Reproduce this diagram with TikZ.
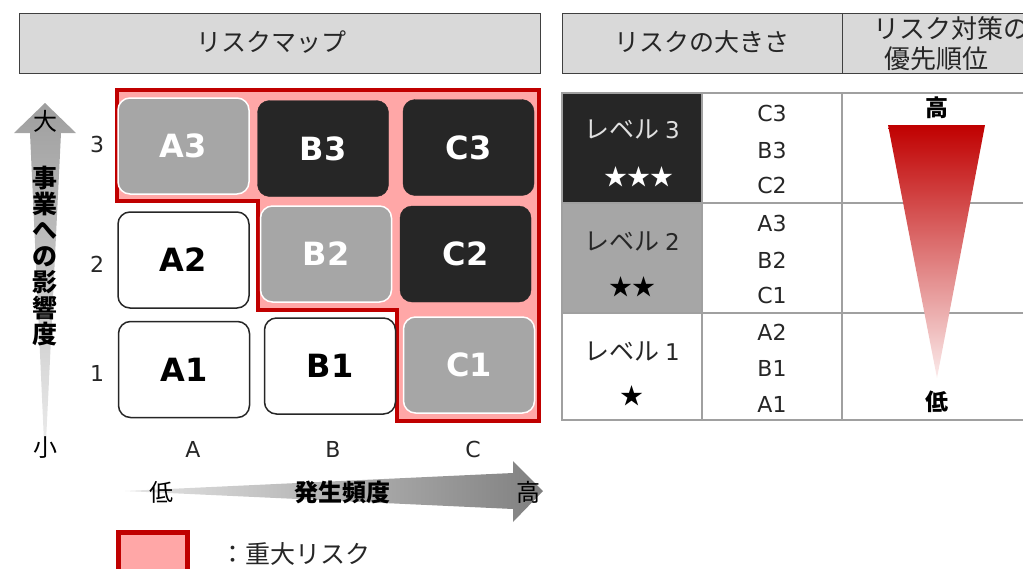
\documentclass[tikz,border=0pt]{standalone}
\usepackage{fontspec}
\setmainfont{DejaVu Sans}
\newfontfamily\jp{Noto Sans CJK JP}
\newcommand\myfs[1]{\fontsize{#1}{#1}\selectfont}
\definecolor{hdr}{HTML}{D9D9D9}
\definecolor{pinkr}{HTML}{FFA7A7}
\definecolor{dred}{HTML}{C00000}
\definecolor{dk}{HTML}{262626}
\definecolor{gy}{HTML}{A6A6A6}
\definecolor{tl}{HTML}{A0A0A0}
\tikzset{
  hdrbox/.style={draw=black!75, line width=1pt, fill=hdr},
  cell/.style={rounded corners=12pt, minimum width=131pt, minimum height=96pt, inner sep=0pt, font=\myfs{32}\bfseries},
  darkcell/.style={cell, fill=dk, draw=dk, text=white},
  graycell/.style={cell, fill=gy, draw=white, line width=1.5pt, text=white},
  whitecell/.style={cell, fill=white, draw=black!85, line width=1.5pt, text=black},
  axlab/.style={font=\myfs{22}, text=black!85, inner sep=0pt},
  jtext/.style={font=\jp\myfs{24}, text=black!85, inner sep=0pt},
  item/.style={font=\myfs{22}, text=black!85, inner sep=0pt},
  tline/.style={draw=tl, line width=1.2pt}
}
\begin{document}
\begin{tikzpicture}[x=1pt,y=-1pt]
\useasboundingbox (0,0) rectangle (1023,568);
% ---------- left header
\draw[hdrbox] (19,13) rectangle (540,73);
\node[font=\jp\myfs{25}, text=black!85, inner sep=0pt] (hmap) at (271,42) {リスクマップ};
% ---------- serious-risk region
\draw[fill=pinkr, draw=dred, line width=4.5pt]
  (117,90) -- (539,90) -- (539,421) -- (397,421) -- (397,310) -- (258,310) -- (258,201) -- (117,201) -- cycle;
% ---------- cells
\node[graycell]  (a3) at (183.5,146) {A3};
\node[darkcell]  (b3) at (323,148.5) {B3};
\node[darkcell]  (c3) at (468.5,147.5) {C3};
\node[whitecell] (a2) at (183.5,260) {A2};
\node[graycell]  (b2) at (326,254) {B2};
\node[darkcell]  (c2) at (465.5,254) {C2};
\node[whitecell] (a1) at (184,369.5) {A1};
\node[whitecell] (b1) at (330,366) {B1};
\node[graycell]  (c1) at (469,365) {C1};
% ---------- axis labels
\node[axlab] (r3) at (97,144) {3};
\node[axlab] (r2) at (97,264) {2};
\node[axlab] (r1) at (97,373) {1};
\node[axlab] (ca) at (193,449) {A};
\node[axlab] (cb) at (333,449) {B};
\node[axlab] (cc) at (473,449) {C};
% ---------- vertical arrow
\shade[top color=black!38, bottom color=black!8]
  (45,103) -- (76,133) -- (61,133) -- (46,442) -- (44,442) -- (30,133) -- (14,133) -- cycle;
\node[jtext, text=black] (big) at (45,121) {大};
\node[jtext, text=black] (small) at (45,448) {小};
\node[font=\jp\fontsize{25}{26}\selectfont\bfseries, align=center, inner sep=0pt] (vt) at (45,256) {事\\業\\へ\\の\\影\\響\\度};
% ---------- horizontal arrow
\shade[left color=black!10, right color=black!50]
  (125,491) -- (513,473) -- (513,461) -- (543,491) -- (513,522) -- (513,509) -- cycle;
\node[jtext, text=black] (low) at (161,492) {低};
\node[font=\jp\myfs{24}\bfseries, inner sep=0pt] (freq) at (342,492) {発生頻度};
\node[jtext, text=black] (high) at (528,492) {高};
% ---------- legend
\draw[fill=pinkr, draw=dred, line width=5pt] (118,532) rectangle (187,575);
\node[font=\jp\myfs{25}, text=black!85, inner sep=0pt, anchor=west] (leg) at (220,554) {：重大リスク};
% ---------- right header
\draw[hdrbox] (562,13) rectangle (1045,73);
\draw[draw=black!75, line width=1pt] (842,13) -- (842,73);
\node[font=\jp\myfs{25}, text=black!85, inner sep=0pt] (hsize) at (702,42) {リスクの大きさ};
\node[font=\jp\myfs{26}, text=black!85, anchor=west, inner sep=0pt] (hprio1) at (873,29) {リスク対策の};
\node[font=\jp\myfs{26}, text=black!85, anchor=west, inner sep=0pt] (hprio2) at (884,59) {優先順位};
% ---------- table body
\fill[dk] (562,93) rectangle (702,203);
\fill[gy] (562,203) rectangle (702,313);
\draw[tline] (562,93) rectangle (1045,420);
\draw[tline] (702,93) -- (702,420);
\draw[tline] (842,93) -- (842,420);
\draw[tline] (562,203) -- (1045,203);
\draw[tline] (562,313) -- (1045,313);
% levels
\node[inner sep=0pt, text=white!88!black] (l3) at (632,129) {{\jp\myfs{25}レベル}\hspace{6pt}{\myfs{23}3}};
\node[font=\jp\myfs{23}, text=white, inner sep=0pt] (s3) at (639,177) {★★★};
\node[inner sep=0pt, text=black!85] (l2) at (632,241) {{\jp\myfs{25}レベル}\hspace{6pt}{\myfs{23}2}};
\node[font=\jp\myfs{23}, text=black, inner sep=0pt] (s2) at (632,287) {★★};
\node[inner sep=0pt, text=black!85] (l1) at (632,351) {{\jp\myfs{25}レベル}\hspace{6pt}{\myfs{23}1}};
\node[font=\jp\myfs{23}, text=black, inner sep=0pt] (s1) at (632,396) {★};
% items
\node[item] (i1) at (772,113) {C3};
\node[item] (i2) at (772,150) {B3};
\node[item] (i3) at (772,185) {C2};
\node[item] (i4) at (772,223) {A3};
\node[item] (i5) at (772,260) {B2};
\node[item] (i6) at (772,295) {C1};
\node[item] (i7) at (772,332) {A2};
\node[item] (i8) at (772,368) {B1};
\node[item] (i9) at (772,404) {A1};
% priority triangle
\shade[top color=dred, middle color=pinkr!95!red, bottom color=black!8!pinkr!20]
  (888,125) -- (985,125) -- (937,378) -- cycle;
\node[font=\jp\myfs{23}\bfseries, inner sep=0pt] (phigh) at (937,108) {高};
\node[font=\jp\myfs{23}\bfseries, inner sep=0pt] (plow) at (937,402) {低};
\end{tikzpicture}
\end{document}
